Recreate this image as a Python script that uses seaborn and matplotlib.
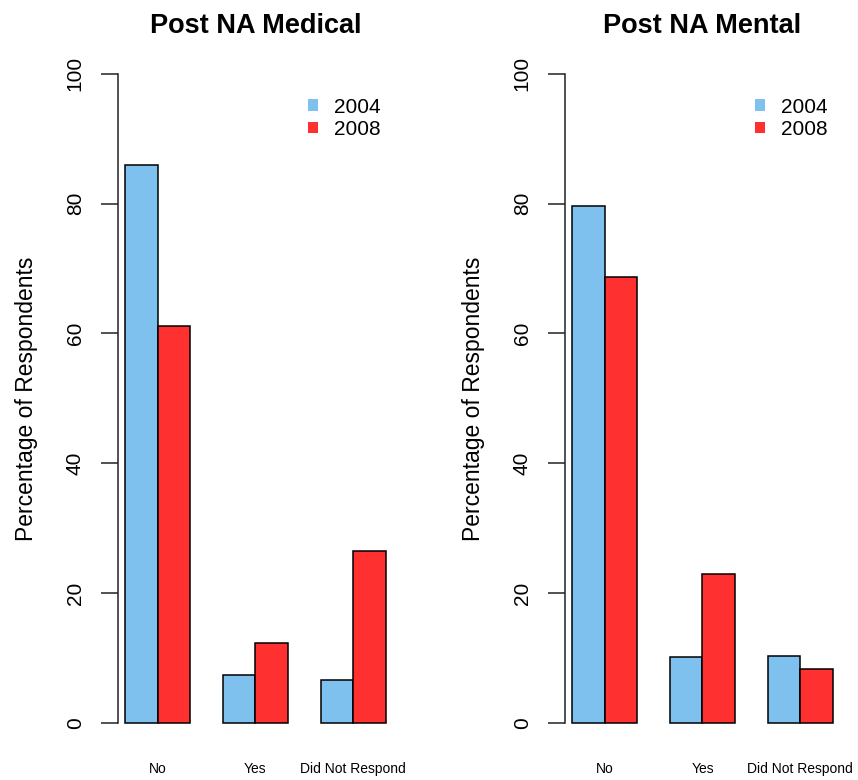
import pandas as pd
import matplotlib.pyplot as plt
import seaborn as sns
from matplotlib.patches import Patch

categories = ['No', 'Yes', 'Did Not Respond']
years = ['2004', '2008']
medical_2004 = [86.0, 7.4, 6.6]
medical_2008 = [61.2, 12.3, 26.5]
mental_2004 = [79.6, 10.1, 10.3]
mental_2008 = [68.7, 23.0, 8.3]

colors = {'2004': '#7EC0EE', '2008': '#FF3030'}

sns.set_style('white')
plt.rcParams['font.family'] = ['Liberation Sans', 'DejaVu Sans']
plt.rcParams['text.color'] = 'black'
plt.rcParams['axes.labelcolor'] = 'black'
plt.rcParams['xtick.color'] = 'black'
plt.rcParams['ytick.color'] = 'black'


def make_df(v2004, v2008):
    rows = []
    for cat, a, b in zip(categories, v2004, v2008):
        rows.append({'answer': cat, 'year': '2004', 'pct': a})
        rows.append({'answer': cat, 'year': '2008', 'pct': b})
    return pd.DataFrame(rows)


fig = plt.figure(figsize=(8.58, 7.8), dpi=100)
ax1 = fig.add_axes([0.1375, 0.0397, 0.3205, 0.899])
ax2 = fig.add_axes([0.6585, 0.0397, 0.3205, 0.899])

panels = [
    (ax1, 'Post NA Medical', make_df(medical_2004, medical_2008)),
    (ax2, 'Post NA Mental', make_df(mental_2004, mental_2008)),
]

for ax, title, df in panels:
    sns.barplot(data=df, x='answer', y='pct', hue='year', order=categories,
                hue_order=years, palette=colors, saturation=1, width=2/3,
                edgecolor='black', linewidth=1.1, legend=False, ax=ax)
    ax.set_xlim(-0.405, 2.405)
    ax.set_ylim(-4, 104)
    for side in ['top', 'right', 'bottom']:
        ax.spines[side].set_visible(False)
    ax.spines['left'].set_bounds(0, 100)
    ax.spines['left'].set_linewidth(1.1)
    ax.spines['left'].set_color('#222222')
    ax.set_yticks([0, 20, 40, 60, 80, 100])
    ax.tick_params(axis='y', direction='out', length=12, width=1.1,
                   color='#222222', pad=12, labelsize=15, left=True)
    for lab in ax.get_yticklabels():
        lab.set_rotation(90)
        lab.set_va('center')
    ax.tick_params(axis='x', length=0, pad=9, labelsize=10)
    ax.set_xlabel('')
    ax.set_ylabel('Percentage of Respondents', fontsize=16.5)
    ax.yaxis.set_label_coords(-0.29, 0.5)
    ax.set_title(title, fontsize=19.5, fontweight='bold', pad=11)
    handles = [Patch(facecolor=colors[y], edgecolor='none', label=y) for y in years]
    ax.legend(handles=handles, loc='upper left', bbox_to_anchor=(0.69, 0.929),
              frameon=False, fontsize=15, borderpad=0, borderaxespad=0,
              handlelength=0.48, handleheight=0.48, handletextpad=0.8,
              labelspacing=0.15)

plt.savefig('out.png', dpi=100)
